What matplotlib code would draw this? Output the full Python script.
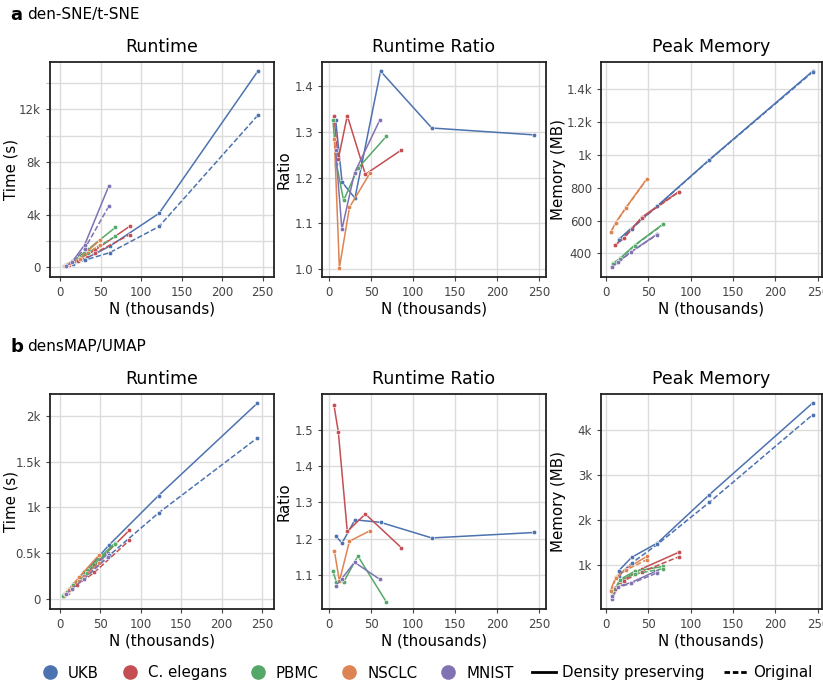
import matplotlib
matplotlib.use("Agg")
import matplotlib.pyplot as plt
from matplotlib.lines import Line2D
from matplotlib.ticker import FuncFormatter, MultipleLocator

plt.rcParams["font.family"] = "DejaVu Sans"

datasets = ["UKB", "C. elegans", "PBMC", "NSCLC", "MNIST"]
colors = ["#4C72B0", "#C44E52", "#55A868", "#DD8452", "#8172B3"]

# subsample sizes (thousands of cells)
n_ukb = [7.6, 15.2, 30.5, 61, 122, 244]
n_cel = [5.4, 10.7, 21.4, 42.9, 85.8]
n_pbmc = [4.3, 8.5, 17, 34, 68]
n_nsclc = [6, 12, 24, 48.5]
n_mnist = [7.5, 15, 30, 60]
n_run = [n_ukb, n_cel, n_pbmc, n_nsclc, n_mnist]
n_mem = [n_ukb[1:], n_cel[1:], n_pbmc[1:], n_nsclc, n_mnist]

# den-SNE / t-SNE
tsne_time_dens = [[160, 330, 640, 1600, 4100, 14900],
                  [130, 250, 600, 1300, 3120],
                  [100, 230, 520, 1350, 3030],
                  [140, 300, 700, 2040],
                  [150, 450, 1700, 6200]]
tsne_time_orig = [[120, 280, 550, 1110, 3100, 11550],
                  [100, 200, 450, 1080, 2480],
                  [75, 190, 450, 1100, 2350],
                  [110, 300, 620, 1690],
                  [120, 410, 1400, 4660]]
tsne_ratio = [[1.325, 1.19, 1.155, 1.432, 1.308, 1.293],
              [1.335, 1.24, 1.335, 1.207, 1.26],
              [1.325, 1.23, 1.15, 1.22, 1.29],
              [1.285, 1.003, 1.135, 1.21],
              [1.26, 1.087, 1.21, 1.325]]
tsne_mem_dens = [[485, 555, 690, 970, 1510],
                 [450, 495, 622, 775],
                 [340, 370, 450, 580],
                 [530, 590, 680, 855],
                 [320, 350, 410, 515]]
tsne_mem_orig = [[480, 550, 688, 968, 1505],
                 [448, 492, 618, 772],
                 [335, 368, 447, 577],
                 [528, 588, 678, 852],
                 [318, 348, 408, 512]]

# densMAP / UMAP
umap_time_dens = [[70, 140, 290, 590, 1130, 2140],
                  [50, 100, 190, 370, 750],
                  [40, 80, 160, 320, 610],
                  [60, 110, 240, 480],
                  [60, 120, 250, 500]]
umap_time_orig = [[58, 118, 230, 475, 940, 1760],
                  [32, 67, 155, 290, 640],
                  [36, 74, 150, 280, 600],
                  [50, 100, 200, 390],
                  [56, 110, 220, 460]]
umap_ratio = [[1.207, 1.188, 1.252, 1.245, 1.202, 1.217],
              [1.57, 1.495, 1.22, 1.268, 1.175],
              [1.11, 1.08, 1.08, 1.152, 1.025],
              [1.167, 1.083, 1.193, 1.222],
              [1.07, 1.09, 1.135, 1.088]]
umap_mem_dens = [[870, 1170, 1490, 2560, 4600],
                 [480, 680, 920, 1280],
                 [390, 680, 860, 970],
                 [450, 740, 920, 1190],
                 [244, 530, 610, 870]]
umap_mem_orig = [[760, 1040, 1460, 2390, 4340],
                 [470, 650, 850, 1180],
                 [380, 660, 800, 920],
                 [420, 700, 890, 1120],
                 [300, 510, 590, 820]]

W, H = 823, 686
fig = plt.figure(figsize=(W / 100, H / 100), dpi=100)


def k_fmt(v, pos):
    if v == 0:
        return "0"
    return f"{v / 1000:g}k"


def mem_fmt(v, pos):
    if abs(v) < 1000:
        return f"{v:g}"
    return f"{v / 1000:g}k"


def make_ax(x0, y0, w, h, ylab, ylab_x):
    ax = fig.add_axes([x0 / W, 1 - (y0 + h) / H, w / W, h / H])
    ax.grid(True, which="both", color="#dcdcdc", lw=1.0)
    ax.set_axisbelow(True)
    for s in ax.spines.values():
        s.set_color("#222222")
        s.set_linewidth(1.3)
    ax.tick_params(labelsize=8.5, colors="#444444", length=3, width=0.8)
    ax.tick_params(which="minor", length=3, width=0.8, color="#bbbbbb")
    ax.tick_params(axis="x", which="minor", length=0)
    ax.xaxis.set_major_locator(MultipleLocator(50))
    ax.set_xlabel("N (thousands)", fontsize=10.8, labelpad=1.5)
    ax.set_ylabel(ylab, fontsize=10.8)
    ax.yaxis.set_label_coords((ylab_x - x0) / w, 0.5)
    return ax


def draw(ax, xs, ys, ls="-"):
    for x, y, c in zip(xs, ys, colors):
        kw = dict(color=c, lw=1.1, marker="o", ms=3.2, mec="white", mew=0.4)
        if ls == "-":
            ax.plot(x, y, **kw)
        else:
            ax.plot(x, y, ls="--", dashes=(3.5, 1.5), **kw)


lefts = [50, 322, 601]
widths = [224, 224, 221]
tops = [62, 394]
ph = 215

for row, (tdens, torig, ratio, mdens, morig, name, letter) in enumerate([
        (tsne_time_dens, tsne_time_orig, tsne_ratio, tsne_mem_dens, tsne_mem_orig, "den-SNE/t-SNE", "a"),
        (umap_time_dens, umap_time_orig, umap_ratio, umap_mem_dens, umap_mem_orig, "densMAP/UMAP", "b")]):
    top = tops[row]
    # runtime
    ax = make_ax(lefts[0], top, widths[0], ph, "Time (s)", 18)
    draw(ax, n_run, tdens)
    draw(ax, n_run, torig, "--")
    ax.set_title("Runtime", fontsize=12.5, pad=7)
    ax.yaxis.set_major_formatter(FuncFormatter(k_fmt))
    if row == 0:
        ax.set_xlim(-12.8, 264)
        ax.set_ylim(-740, 15600)
        ax.yaxis.set_major_locator(MultipleLocator(4000))
        ax.yaxis.set_minor_locator(MultipleLocator(2000))
    else:
        ax.set_xlim(-12, 264.5)
        ax.set_ylim(-110, 2240)
        ax.yaxis.set_major_locator(MultipleLocator(500))

    # ratio
    ax = make_ax(lefts[1], top, widths[1], ph, "Ratio", 292)
    draw(ax, n_run, ratio)
    ax.set_title("Runtime Ratio", fontsize=12.5, pad=7)
    ax.yaxis.set_major_locator(MultipleLocator(0.1))
    ax.yaxis.set_major_formatter(FuncFormatter(lambda v, p: f"{v:.1f}"))
    ax.set_xlim(-8.7, 258)
    if row == 0:
        ax.set_ylim(0.983, 1.452)
    else:
        ax.set_ylim(1.006, 1.599)

    # memory
    ax = make_ax(lefts[2], top, widths[2], ph, "Memory (MB)", 566)
    draw(ax, n_mem, mdens)
    draw(ax, n_mem, morig, "--")
    ax.set_title("Peak Memory", fontsize=12.5, pad=7)
    ax.yaxis.set_major_formatter(FuncFormatter(mem_fmt))
    ax.set_xlim(-5.6, 255)
    if row == 0:
        ax.set_ylim(256, 1566)
        ax.yaxis.set_major_locator(MultipleLocator(200))
    else:
        ax.set_ylim(22, 4800)
        ax.yaxis.set_major_locator(MultipleLocator(1000))

    fig.text(10 / W, 1 - (top - 47) / H, letter, fontsize=13, fontweight="bold", va="center")
    fig.text(27 / W, 1 - (top - 47) / H, name, fontsize=11, va="center")

handles = [Line2D([], [], ls="none", marker="o", ms=9.5, color=c, mec=c) for c in colors]
handles += [Line2D([], [], color="black", lw=2),
            Line2D([], [], color="black", lw=2, ls="--", dashes=(2, 1))]
labels = datasets + ["Density preserving", "Original"]
fig.legend(handles, labels, loc="center", bbox_to_anchor=(0.517, 13 / H), ncol=7,
           frameon=False, fontsize=10.8, handlelength=1.6, handletextpad=0.4,
           columnspacing=1.25)

fig.savefig("out.png", dpi=100)
